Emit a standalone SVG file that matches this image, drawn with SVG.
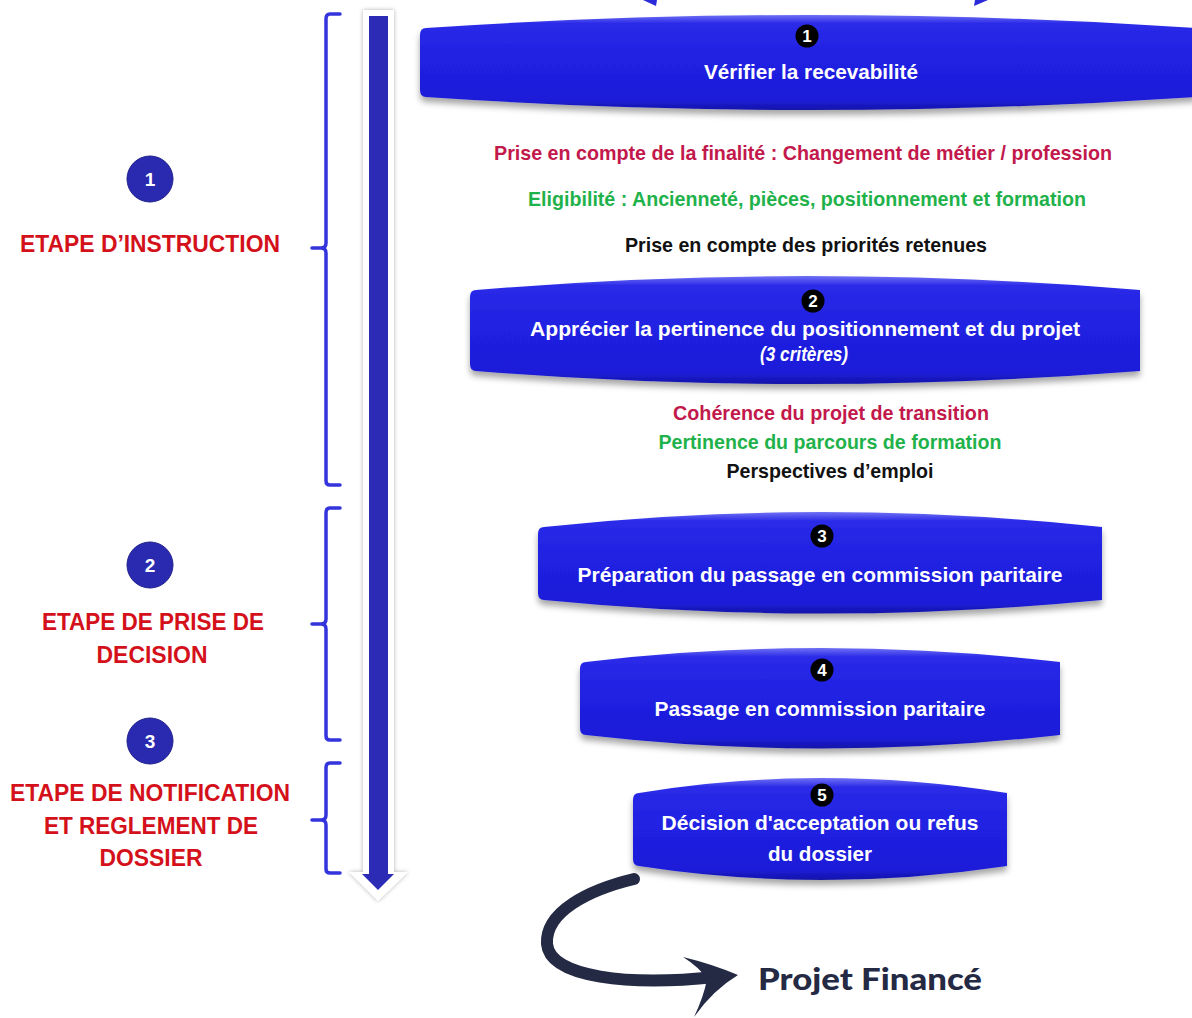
<svg xmlns="http://www.w3.org/2000/svg" width="1192" height="1018" viewBox="0 0 1192 1018">
<style>
.lbl{font-family:"Liberation Sans",Arial,sans-serif;font-weight:bold;fill:#d4111b;font-size:24px;text-anchor:middle}
.bt{font-family:"Liberation Sans",Arial,sans-serif;font-weight:bold;fill:#ffffff;font-size:21px;text-anchor:middle}
.mt{font-family:"Liberation Sans",Arial,sans-serif;font-weight:bold;font-size:21px;text-anchor:middle}
.red{fill:#c2184b}.grn{fill:#1fb24b}.blk{fill:#111111}
.num{font-family:"Liberation Sans",Arial,sans-serif;font-weight:bold;fill:#ffffff;font-size:17px;text-anchor:middle}
.snum{font-family:"Liberation Sans",Arial,sans-serif;font-weight:bold;fill:#ffffff;font-size:19px;text-anchor:middle}
.brace{fill:none;stroke:#3434dc;stroke-width:3.5;stroke-linejoin:round;stroke-linecap:round}
.box{fill:url(#bg);filter:url(#sh)}
.cnum{fill:#000}
.stc{fill:#2a2ab0;stroke:#20208a;stroke-width:1}
</style>
<defs>
<linearGradient id="bg" x1="0" y1="0" x2="0" y2="1">
<stop offset="0" stop-color="#7070f4"/>
<stop offset="0.09" stop-color="#2a2ae8"/>
<stop offset="0.5" stop-color="#2020e2"/>
<stop offset="0.9" stop-color="#1d1dd8"/>
<stop offset="1" stop-color="#1414a8"/>
</linearGradient>
<filter id="sh" x="-5%" y="-10%" width="110%" height="140%">
<feDropShadow dx="0" dy="5" stdDeviation="3" flood-color="#000" flood-opacity="0.35"/>
</filter>
<filter id="sh2" x="-50%" y="-5%" width="200%" height="110%">
<feDropShadow dx="0" dy="0" stdDeviation="2" flood-color="#000" flood-opacity="0.3"/>
</filter>
</defs>

<g id="top-fragments">
<polygon points="643,0 657,0 656,6" fill="#2a2ad8"/>
<polygon points="974,6 988,0 975,0" fill="#2a2ad8"/>
</g>

<g id="timeline-arrow">
<path d="M363,10 H394 V872 H408 L378,901 L349,872 H363 Z" fill="#ffffff" filter="url(#sh2)"/>
<path d="M369,16 H388 V874 H394 L378,890 L362,874 H369 Z" fill="#2b2bb5"/>
</g>

<g id="connectors">
<path class="brace" d="M340,14 H330 Q326,14 326,19 V243 Q326,248 321,248 H312 M321,248 Q326,248 326,253 V481 Q326,485 330,485 H340"/>
<path class="brace" d="M340,508 H330 Q326,508 326,513 V619 Q326,624 321,624 H312 M321,624 Q326,624 326,629 V736 Q326,740 330,740 H340"/>
<path class="brace" d="M340,763 H330 Q326,763 326,768 V815 Q326,820 321,820 H312 M321,820 Q326,820 326,825 V869 Q326,873 330,873 H340"/>
<path d="M634,879 C588,890 545,912 547,944 C550,978 630,986 715,977" fill="none" stroke="#252a44" stroke-width="12" stroke-linecap="round"/>
<path d="M683,957 Q712,964 738,975 Q713,990 694,1017 Q704,996 707,979 Q699,967 683,957 Z" fill="#252a44"/>
</g>

<g id="stage1">
<circle class="stc" cx="150" cy="179" r="23"/>
<text class="snum" x="150" y="186">1</text>
<text class="lbl" x="150" y="252" textLength="260" lengthAdjust="spacingAndGlyphs">ETAPE D’INSTRUCTION</text>
</g>
<g id="stage2">
<circle class="stc" cx="150" cy="565" r="23"/>
<text class="snum" x="150" y="572">2</text>
<text class="lbl" x="153" y="630" textLength="222" lengthAdjust="spacingAndGlyphs">ETAPE DE PRISE DE</text>
<text class="lbl" x="152" y="663" textLength="111" lengthAdjust="spacingAndGlyphs">DECISION</text>
</g>
<g id="stage3">
<circle class="stc" cx="150" cy="741" r="23"/>
<text class="snum" x="150" y="748">3</text>
<text class="lbl" x="150" y="801" textLength="280" lengthAdjust="spacingAndGlyphs">ETAPE DE NOTIFICATION</text>
<text class="lbl" x="151" y="834" textLength="214" lengthAdjust="spacingAndGlyphs">ET REGLEMENT DE</text>
<text class="lbl" x="151" y="866" textLength="103" lengthAdjust="spacingAndGlyphs">DOSSIER</text>
</g>

<g id="box1">
<path class="box" d="M426,28 Q808,2 1196,28 L1196,97 Q808,123 426,97 Q420,97 420,90 L420,35 Q420,28 426,28 Z"/>
<circle class="cnum" cx="807" cy="36" r="11.5"/>
<text class="num" x="807" y="42">1</text>
<text class="bt" x="811" y="79" textLength="214" lengthAdjust="spacingAndGlyphs">Vérifier la recevabilité</text>
</g>

<g id="criteria1">
<text class="mt red" x="803" y="160" textLength="618" lengthAdjust="spacingAndGlyphs">Prise en compte de la finalité : Changement de métier / profession</text>
<text class="mt grn" x="807" y="206" textLength="558" lengthAdjust="spacingAndGlyphs">Eligibilité : Ancienneté, pièces, positionnement et formation</text>
<text class="mt blk" x="806" y="252" textLength="362" lengthAdjust="spacingAndGlyphs">Prise en compte des priorités retenues</text>
</g>

<g id="box2">
<path class="box" d="M476,290 Q805,262 1140,290 L1140,371 Q805,397 476,371 Q470,371 470,364 L470,297 Q470,290 476,290 Z"/>
<circle class="cnum" cx="813" cy="301" r="11.5"/>
<text class="num" x="813" y="307">2</text>
<text class="bt" x="805" y="336" textLength="550" lengthAdjust="spacingAndGlyphs">Apprécier la pertinence du positionnement et du projet</text>
<text class="bt" x="804" y="361" font-size="16" font-style="italic" font-weight="normal" textLength="88" lengthAdjust="spacingAndGlyphs">(3 critères)</text>
</g>

<g id="criteria2">
<text class="mt red" x="831" y="420" textLength="316" lengthAdjust="spacingAndGlyphs">Cohérence du projet de transition</text>
<text class="mt grn" x="830" y="449" textLength="343" lengthAdjust="spacingAndGlyphs">Pertinence du parcours de formation</text>
<text class="mt blk" x="830" y="478" textLength="207" lengthAdjust="spacingAndGlyphs">Perspectives d’emploi</text>
</g>

<g id="box3">
<path class="box" d="M544,527 Q820,497 1102,527 L1102,600 Q820,627 544,600 Q538,600 538,593 L538,534 Q538,527 544,527 Z"/>
<circle class="cnum" cx="822" cy="536" r="11.5"/>
<text class="num" x="822" y="542">3</text>
<text class="bt" x="820" y="582" textLength="485" lengthAdjust="spacingAndGlyphs">Préparation du passage en commission paritaire</text>
</g>

<g id="box4">
<path class="box" d="M586,662 Q820,634 1060,662 L1060,735 Q820,762 586,735 Q580,735 580,728 L580,669 Q580,662 586,662 Z"/>
<circle class="cnum" cx="822" cy="670" r="11.5"/>
<text class="num" x="822" y="676">4</text>
<text class="bt" x="820" y="716" textLength="331" lengthAdjust="spacingAndGlyphs">Passage en commission paritaire</text>
</g>

<g id="box5">
<path class="box" d="M639,793 Q820,763 1007,793 L1007,866 Q820,894 639,866 Q633,866 633,859 L633,800 Q633,793 639,793 Z"/>
<circle class="cnum" cx="822" cy="795" r="11.5"/>
<text class="num" x="822" y="801">5</text>
<text class="bt" x="820" y="830" textLength="317" lengthAdjust="spacingAndGlyphs">Décision d'acceptation ou refus</text>
<text class="bt" x="820" y="861" textLength="104" lengthAdjust="spacingAndGlyphs">du dossier</text>
</g>

<g id="result">
<text x="870" y="990" font-family="Lato, 'Open Sans', sans-serif" font-weight="900" font-size="30" fill="#252a44" text-anchor="middle" textLength="224" lengthAdjust="spacingAndGlyphs">Projet Financé</text>
</g>
</svg>
